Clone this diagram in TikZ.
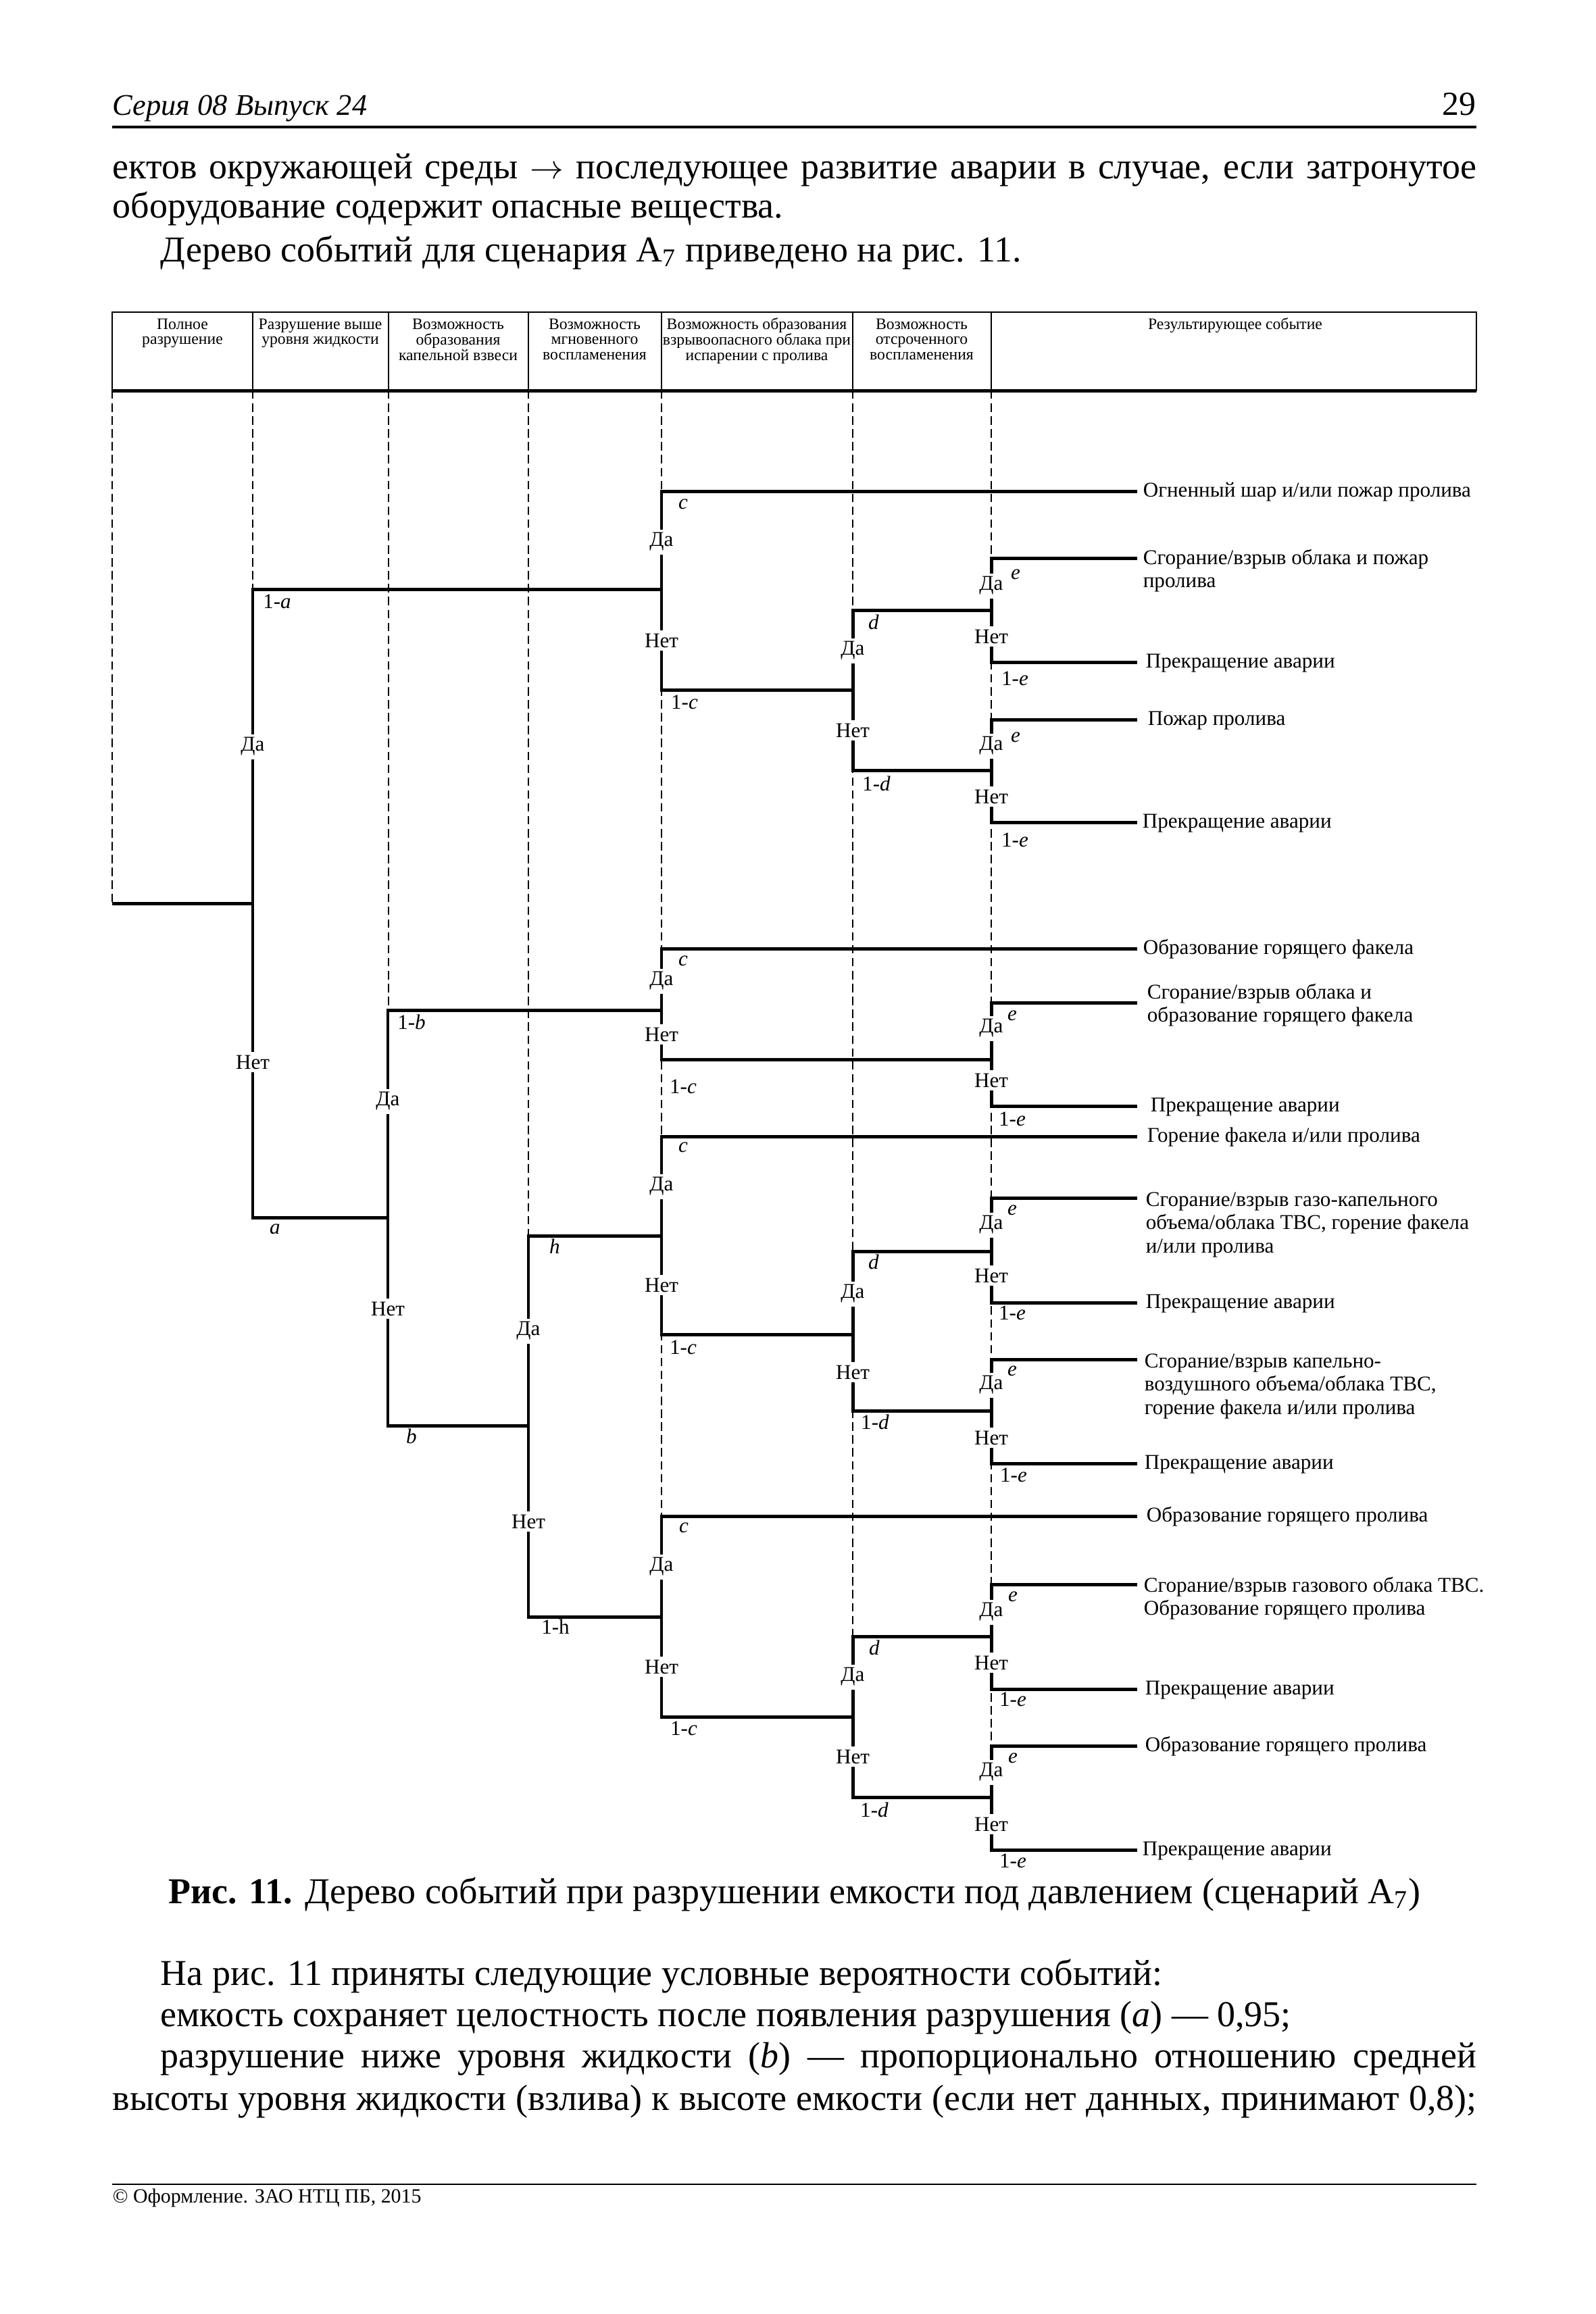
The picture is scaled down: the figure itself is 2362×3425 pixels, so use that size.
\documentclass[tikz,border=0pt]{standalone}
\usepackage{fontspec}
\setmainfont{Liberation Serif}
\usetikzlibrary{positioning}

\newcommand{\lblfont}{\fontsize{7.5}{8.4}\selectfont}
\newcommand{\headfont}{\fontsize{5.7}{5.5}\selectfont}
\newcommand{\bodyfont}{\fontsize{13}{14.4}\selectfont}
\newcommand{\stacklines}[2][l]{\begin{tabular}[t]{@{}#1@{}}#2\end{tabular}}

\begin{document}
\begin{tikzpicture}[x=0.0084674cm, y=-0.0084674cm,
    branch/.style={line width=1.2pt},
    col/.style={line width=0.3pt, dash pattern=on 3pt off 1.6pt},
    yn/.style={fill=white, inner sep=1.2pt, font=\lblfont},
    pr/.style={inner sep=0pt, font=\lblfont},
    res/.style={anchor=base west, inner sep=0pt, font=\lblfont},
    colhead/.style={anchor=base, inner sep=0pt, font=\headfont},
    txt/.style={anchor=base west, inner sep=0pt, font=\bodyfont}]

    \fill[white] (0,0) rectangle (2362,3425);
    \useasboundingbox (0,0) rectangle (2362,3425);

    % page head and text above the figure
    \node[anchor=base west, inner sep=0pt, font=\fontsize{10.7}{13}\selectfont\itshape] (hdr) at (166,170) {Серия 08 Выпуск 24};
    \node[anchor=base east, inner sep=0pt, font=\fontsize{12}{14}\selectfont] (pgno) at (2185,170) {29};
    \draw[line width=0.8pt] (166,188) -- (2185,188);
    \node[txt] (p1) at (166,264) {\makebox[17.096cm][s]{ектов окружающей среды $\rightarrow$ последующее развитие аварии в случае, если затронутое}};
    \node[txt] (p2) at (166,322) {оборудование содержит опасные вещества.};
    \node[txt] (p3) at (237,387) {Дерево событий для сценария A\textsubscript{7} приведено на рис. 11.};

    % table head
    \draw[line width=0.6pt] (166,462) rectangle (2185,578);
    \draw[line width=1.2pt] (166,578) -- (2185,578);
    \foreach \x in {374,575,782,979,1262,1467} {
        \draw[line width=0.4pt] (\x,462) -- (\x,578);
    }
    \node[colhead] (h1) at (270,487) {\stacklines[c]{Полное\\разрушение}};
    \node[colhead] (h2) at (474,487) {\stacklines[c]{Разрушение выше\\уровня жидкости}};
    \node[colhead] (h3) at (678,487) {\stacklines[c]{Возможность\\образования\\капельной взвеси}};
    \node[colhead] (h4) at (880,487) {\stacklines[c]{Возможность\\мгновенного\\воспламенения}};
    \node[colhead] (h5) at (1120,487) {\stacklines[c]{Возможность образования\\взрывоопасного облака при\\испарении с пролива}};
    \node[colhead] (h6) at (1364,487) {\stacklines[c]{Возможность\\отсроченного\\воспламенения}};
    \node[colhead] (h7) at (1828,487) {Результирующее событие};

    % dashed column lines
    \foreach \x/\e in {166/1337, 374/872, 575/1495, 782/1829, 979/2541, 1262/2660, 1467/2738} {
        \draw[col] (\x,578) -- (\x,\e);
    }

    % forks: name/x/y(Да)/y(joint)/y(Нет)
    \foreach \n/\x/\t/\m/\b in {A/374/872/1337/1802, B/574/1495/1802/2110, H/782/1829/2110/2393,
        C1/979/727/872/1021, C2/979/1404/1495/1568, C3/979/1682/1829/1975, C4/979/2244/2393/2541,
        D1/1262/903/1021/1140, D3/1262/1852/1975/2088, D4/1262/2422/2541/2660,
        E1/1467/826/903/980, E2/1467/1065/1140/1217, E3/1467/1484/1568/1637,
        E4/1467/1773/1852/1928, E5/1467/2012/2088/2166, E6/1467/2345/2422/2500, E7/1467/2584/2660/2738} {
        \coordinate (\n) at (\x,\m);
        \coordinate (\n y) at (\x,\t);
        \coordinate (\n n) at (\x,\b);
    }
    \coordinate (root) at (166,1337);
    \foreach \i/\y in {1/727, 2/826, 3/980, 4/1065, 5/1217, 6/1404, 7/1484, 8/1637, 9/1682,
        10/1773, 11/1928, 12/2012, 13/2166, 14/2244, 15/2345, 16/2500, 17/2584, 18/2738} {
        \coordinate (r\i) at (1683,\y);
    }

    % branches
    \draw[branch] (root) -- (A);
    \draw[branch] (C1) -- (Ay) -- (An) -- (B);
    \draw[branch] (C2) -- (By) -- (Bn) -- (H);
    \draw[branch] (C3) -- (Hy) -- (Hn) -- (C4);
    \draw[branch] (r1) -- (C1y) -- (C1n) -- (D1);
    \draw[branch] (r6) -- (C2y) -- (C2n) -- (E3);
    \draw[branch] (r9) -- (C3y) -- (C3n) -- (D3);
    \draw[branch] (r14) -- (C4y) -- (C4n) -- (D4);
    \draw[branch] (E1) -- (D1y) -- (D1n) -- (E2);
    \draw[branch] (E4) -- (D3y) -- (D3n) -- (E5);
    \draw[branch] (E6) -- (D4y) -- (D4n) -- (E7);
    \draw[branch] (r2) -- (E1y) -- (E1n) -- (r3);
    \draw[branch] (r4) -- (E2y) -- (E2n) -- (r5);
    \draw[branch] (r7) -- (E3y) -- (E3n) -- (r8);
    \draw[branch] (r10) -- (E4y) -- (E4n) -- (r11);
    \draw[branch] (r12) -- (E5y) -- (E5n) -- (r13);
    \draw[branch] (r15) -- (E6y) -- (E6n) -- (r16);
    \draw[branch] (r17) -- (E7y) -- (E7n) -- (r18);

    % Да / Нет
    \foreach \n/\x/\y/\z in {A/374/1105/1572, B/574/1630/1937, H/782/1970/2252,
        C1/979/802/948, C2/979/1452/1531, C3/979/1756/1902, C4/979/2319/2467,
        D1/1262/963/1081, D3/1262/1915/2031, D4/1262/2482/2600,
        E1/1467/867/942, E2/1467/1104/1179, E3/1467/1522/1599, E4/1467/1813/1888,
        E5/1467/2050/2128, E6/1467/2386/2461, E7/1467/2623/2700} {
        \node[yn] (\n da) at (\x,\y) {Да};
        \node[yn] (\n net) at (\x,\z) {Нет};
    }

    % probabilities
    \node[pr] (Ap) at (410,890) {1-\textit{a}};
    \node[pr] (Aq) at (407,1819) {\textit{a}};
    \node[pr] (Bp) at (609,1513) {1-\textit{b}};
    \node[pr] (Bq) at (609,2126) {\textit{b}};
    \node[pr] (Hp) at (821,1845) {\textit{h}};
    \node[pr] (Hq) at (822,2408) {1-h};
    \foreach \n/\v/\x/\y/\xx/\yy in {C1/c/1011/746/1013/1039, C2/c/1011/1422/1011/1608,
        C3/c/1011/1698/1011/1994, C4/c/1012/2261/1012/2558,
        D1/d/1293/921/1297/1160, D3/d/1293/1868/1295/2105, D4/d/1294/2439/1294/2679,
        E1/e/1503/850/1502/1004, E2/e/1503/1091/1502/1243, E3/e/1498/1503/1498/1656,
        E4/e/1498/1791/1498/1943, E5/e/1498/2029/1500/2183, E6/e/1499/2363/1499/2515,
        E7/e/1499/2602/1499/2754} {
        \node[pr] (\n p) at (\x,\y) {\textit{\v}};
        \node[pr] (\n q) at (\xx,\yy) {1-\textit{\v}};
    }

    % resulting events
    \node[res] (t1) at (1691,735) {Огненный шар и/или пожар пролива};
    \node[res] (t2) at (1691,835) {\stacklines{Сгорание/взрыв облака и пожар\\пролива}};
    \node[res] (t3) at (1695,988) {Прекращение аварии};
    \node[res] (t4) at (1698,1073) {Пожар пролива};
    \node[res] (t5) at (1690,1225) {Прекращение аварии};
    \node[res] (t6) at (1691,1412) {Образование горящего факела};
    \node[res] (t7) at (1697,1478) {\stacklines{Сгорание/взрыв облака и\\образование горящего факела}};
    \node[res] (t8) at (1702,1645) {Прекращение аварии};
    \node[res] (t9) at (1697,1690) {Горение факела и/или пролива};
    \node[res] (t10) at (1695,1785) {\stacklines{Сгорание/взрыв газо-капельного\\объема/облака ТВС, горение факела\\и/или пролива}};
    \node[res] (t11) at (1695,1936) {Прекращение аварии};
    \node[res] (t12) at (1693,2024) {\stacklines{Сгорание/взрыв капельно-\\воздушного объема/облака ТВС,\\горение факела и/или пролива}};
    \node[res] (t13) at (1693,2174) {Прекращение аварии};
    \node[res] (t14) at (1696,2252) {Образование горящего пролива};
    \node[res] (t15) at (1692,2356) {\stacklines{Сгорание/взрыв газового облака ТВС.\\Образование горящего пролива}};
    \node[res] (t16) at (1694,2508) {Прекращение аварии};
    \node[res] (t17) at (1694,2592) {Образование горящего пролива};
    \node[res] (t18) at (1690,2746) {Прекращение аварии};

    % caption and text below
    \node[anchor=base, inner sep=0pt, font=\bodyfont] (cap) at (1176,2817) {\textbf{Рис. 11.} Дерево событий при разрушении емкости под давлением (сценарий A\textsubscript{7})};
    \node[txt] (q1) at (237,2938) {На рис. 11 приняты следующие условные вероятности событий:};
    \node[txt] (q2) at (237,2999) {емкость сохраняет целостность после появления разрушения (\textit{a}) — 0,95;};
    \node[txt] (q3) at (237,3060) {\makebox[16.494cm][s]{разрушение ниже уровня жидкости (\textit{b}) — пропорционально отношению средней}};
    \node[txt] (q4) at (166,3123) {\makebox[17.096cm][s]{высоты уровня жидкости (взлива) к высоте емкости (если нет данных, принимают 0,8);}};
    \draw[line width=0.6pt] (166,3233) -- (2185,3233);
    \node[anchor=base west, inner sep=0pt, font=\fontsize{7.2}{9}\selectfont] (foot) at (166,3260) {© Оформление. ЗАО НТЦ ПБ, 2015};
\end{tikzpicture}
\end{document}
